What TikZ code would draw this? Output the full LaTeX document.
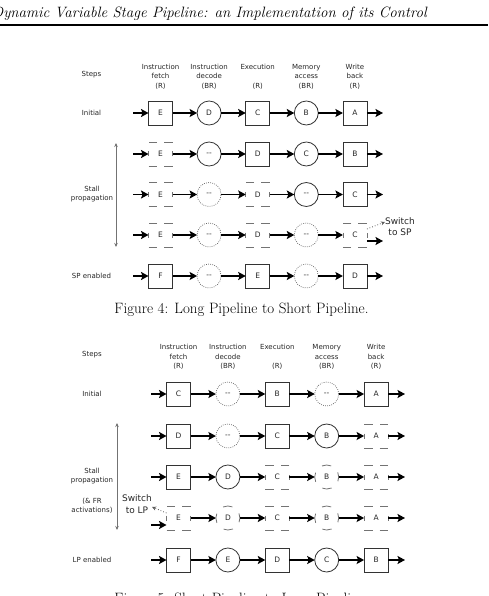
\documentclass[tikz,border=0pt]{standalone}
\usepackage{fontspec}
\setsansfont{DejaVu Sans}
\usetikzlibrary{arrows.meta}
\newcommand\stallmark{-{}-}
\begin{document}
\begin{tikzpicture}[x=1pt,y=-1pt,
  shp/.style={minimum size=24pt, inner sep=0pt, outer sep=0pt, text=black!85,
    font=\sffamily\fontsize{7.5}{9}\selectfont},
  sb/.style={shp, rectangle, draw=black!80, line width=0.8pt},
  db/.style={shp, rectangle, draw=black!55, line width=0.8pt,
    dash pattern=on 8.5pt off 7pt on 8.5pt off 9.5pt on 5pt off 9.5pt},
  sc/.style={shp, circle, draw=black!80, line width=0.8pt},
  dc/.style={shp, circle, draw=black!60, line width=0.7pt, dash pattern=on 0.8pt off 1.3pt},
  ec/.style={shp, circle, draw=black!55, line width=0.8pt, dash pattern=on 9.42pt off 9.42pt, dash phase=4.71pt},
  conn/.style={line width=1.8pt, black, -{Stealth[length=7.5pt,width=8pt,inset=1.5pt]}},
  lab/.style={font=\sffamily\fontsize{7}{9.5}\selectfont, text=black!85, align=center, inner sep=0pt},
  sw/.style={font=\sffamily\fontsize{9}{11.5}\selectfont, text=black!85, align=center, inner sep=0pt},
  stall/.style={line width=0.8pt, black!55, {Stealth[length=4pt,width=3.5pt]}-{Stealth[length=4pt,width=3.5pt]}},
  dotarr/.style={line width=0.8pt, black!65, dotted, -{Stealth[length=4pt,width=4pt]}},
  figcap/.style={font=\fontsize{15}{18}\selectfont, inner sep=0pt, anchor=base}
]
\useasboundingbox (0,0) rectangle (488,596);

% page header
\node[font=\itshape\fontsize{15}{18}\selectfont, inner sep=0pt, anchor=base east] (hdr) at (427,17.3)
  {Dynamic Variable Stage Pipeline: an Implementation of its Control};
\coordinate (rl) at (0,25);
\coordinate (rr) at (488,25);
\draw[line width=1.2pt] (rl) -- (rr);

% ---------------- Figure 4 ----------------
\node[lab] (s1) at (91.5,75) {Steps};
\node[lab] (h11) at (160.5,76.5) {Instruction\\fetch\\(R)};
\node[lab] (h12) at (209.1,76.5) {Instruction\\decode\\(BR)};
\node[lab] (h13) at (257.7,76.5) {Execution\\[9.5pt](R)};
\node[lab] (h14) at (306.3,76.5) {Memory\\access\\(BR)};
\node[lab] (h15) at (354.9,76.5) {Write\\back\\(R)};

\node[lab] (l11) at (91.5,113) {Initial};
\node[lab] (l12) at (92,194) {Stall\\propagation};
\node[lab] (l13) at (91.5,276) {SP enabled};

\coordinate (st1a) at (116,143);
\coordinate (st1b) at (116,247);
\draw[stall] (st1a) -- (st1b);

\foreach \t/\l [count=\i] in {sb/E,sc/D,sb/C,sc/B,sb/A}
  \node[\t] (a1\i) at ({160.5+48.6*(\i-1)},113) {\l};
\foreach \t/\l [count=\i] in {db/E,sc/\stallmark,sb/D,sc/C,sb/B}
  \node[\t] (a2\i) at ({160.5+48.6*(\i-1)},154) {\l};
\foreach \t/\l [count=\i] in {db/E,dc/\stallmark,db/D,sc/\stallmark,sb/C}
  \node[\t] (a3\i) at ({160.5+48.6*(\i-1)},194.5) {\l};
\foreach \t/\l [count=\i] in {db/E,dc/\stallmark,db/D,dc/\stallmark,db/C}
  \node[\t] (a4\i) at ({160.5+48.6*(\i-1)},235) {\l};
\foreach \t/\l [count=\i] in {sb/F,dc/\stallmark,sb/E,dc/\stallmark,sb/D}
  \node[\t] (a5\i) at ({160.5+48.6*(\i-1)},276) {\l};

\foreach \r/\y in {1/113,2/154,3/194.5,4/235,5/276} {
  \coordinate (a\r0) at (133,\y);
}
\foreach \r/\y in {1/113,2/154,3/194.5,5/276} {
  \coordinate (a\r6) at (383,\y);
  \draw[conn] (a\r5) -- (a\r6);
}
\coordinate (a46) at (383,241);
\draw[conn] ([yshift=-6pt]a45.east) -- (a46);
\foreach \r in {1,2,3,4,5}
  \foreach \i/\j in {0/1,1/2,2/3,3/4,4/5}
    \draw[conn] (a\r\i) -- (a\r\j);

\node[sw] (sw1) at (400,226.5) {Switch\\to SP};
\draw[dotarr] ([yshift=6pt]a45.east) -- ([yshift=4.5pt]sw1.west);

\node[figcap] (cap1) at (241.5,313.3) {Figure 4: Long Pipeline to Short Pipeline.};

% ---------------- Figure 5 ----------------
\node[lab] (s2) at (92,355) {Steps};
\node[lab] (h21) at (178.5,357) {Instruction\\fetch\\(R)};
\node[lab] (h22) at (227.9,357) {Instruction\\decode\\(BR)};
\node[lab] (h23) at (277.3,357) {Execution\\[9.5pt](R)};
\node[lab] (h24) at (326.7,357) {Memory\\access\\(BR)};
\node[lab] (h25) at (376.1,357) {Write\\back\\(R)};

\node[lab] (l21) at (92,394) {Initial};
\node[lab] (l22) at (92,476) {Stall\\propagation};
\node[lab] (l23) at (92,506) {(\& FR\\activations)};
\node[lab] (l24) at (92,560) {LP enabled};

\coordinate (st2a) at (117,423);
\coordinate (st2b) at (117,530);
\draw[stall] (st2a) -- (st2b);

\foreach \t/\l [count=\i] in {sb/C,dc/\stallmark,sb/B,dc/\stallmark,sb/A}
  \node[\t] (b1\i) at ({178.5+49.4*(\i-1)},394) {\l};
\foreach \t/\l [count=\i] in {sb/D,dc/\stallmark,sb/C,sc/B,db/A}
  \node[\t] (b2\i) at ({178.5+49.4*(\i-1)},436) {\l};
\foreach \t/\l [count=\i] in {sb/E,sc/D,db/C,ec/B,db/A}
  \node[\t] (b3\i) at ({178.5+49.4*(\i-1)},477) {\l};
\foreach \t/\l [count=\i] in {db/E,ec/D,db/C,ec/B,db/A}
  \node[\t] (b4\i) at ({178.5+49.4*(\i-1)},518) {\l};
\foreach \t/\l [count=\i] in {sb/F,sc/E,sb/D,sc/C,sb/B}
  \node[\t] (b5\i) at ({178.5+49.4*(\i-1)},560) {\l};

\foreach \r/\y in {1/394,2/436,3/477,4/518,5/560} {
  \coordinate (b\r6) at (405,\y);
}
\foreach \r/\y in {1/394,2/436,3/477,5/560} {
  \coordinate (b\r0) at (151,\y);
  \draw[conn] (b\r0) -- (b\r1);
}
\coordinate (b40) at (151,525);
\draw[conn] (b40) -- ([yshift=-7pt]b41.west);
\foreach \r in {1,2,3,4,5}
  \foreach \i/\j in {1/2,2/3,3/4,4/5,5/6}
    \draw[conn] (b\r\i) -- (b\r\j);

\node[sw] (sw2) at (137,504) {Switch\\to LP};
\draw[dotarr] ([yshift=5pt]b41.west) -- ([yshift=-3pt]sw2.east);

\node[figcap] (cap2) at (241.5,603.5) {Figure 5: Short Pipeline to Long Pipeline.};
\end{tikzpicture}
\end{document}
